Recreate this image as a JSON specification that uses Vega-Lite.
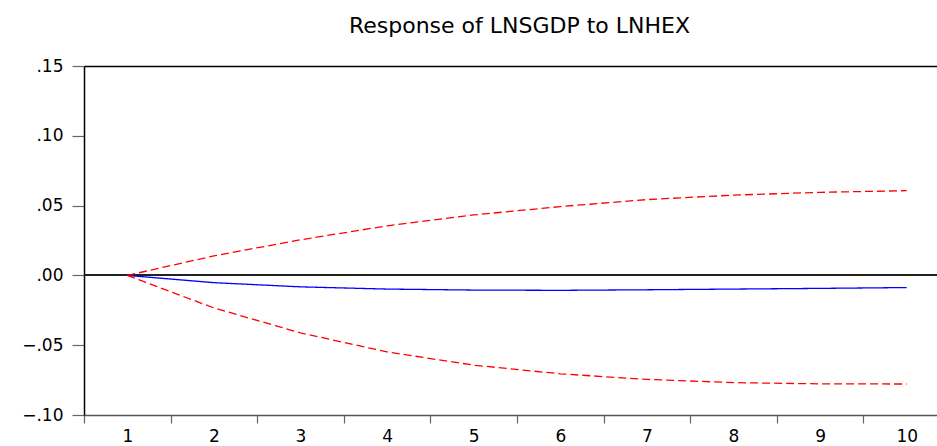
{
  "$schema": "https://vega.github.io/schema/vega-lite/v6.json",
  "width": 853,
  "height": 349,
  "autosize": {"type": "none"},
  "padding": {"left": 84, "top": 66, "right": 0, "bottom": 31},
  "background": "white",
  "title": {
    "text": "Response of LNSGDP to LNHEX",
    "font": "DejaVu Sans",
    "fontSize": 22,
    "fontWeight": "normal",
    "color": "black",
    "offset": 19,
    "dx": 9
  },
  "data": {
    "values": [
      {"step": 1, "series": "response", "value": 0},
      {"step": 2, "series": "response", "value": -0.0052},
      {"step": 3, "series": "response", "value": -0.0082},
      {"step": 4, "series": "response", "value": -0.0098},
      {"step": 5, "series": "response", "value": -0.0105},
      {"step": 6, "series": "response", "value": -0.0107},
      {"step": 7, "series": "response", "value": -0.0103},
      {"step": 8, "series": "response", "value": -0.0098},
      {"step": 9, "series": "response", "value": -0.0093},
      {"step": 10, "series": "response", "value": -0.0087},
      {"step": 1, "series": "upper", "value": 0},
      {"step": 2, "series": "upper", "value": 0.0140},
      {"step": 3, "series": "upper", "value": 0.0255},
      {"step": 4, "series": "upper", "value": 0.0355},
      {"step": 5, "series": "upper", "value": 0.0433},
      {"step": 6, "series": "upper", "value": 0.0493},
      {"step": 7, "series": "upper", "value": 0.0543},
      {"step": 8, "series": "upper", "value": 0.0575},
      {"step": 9, "series": "upper", "value": 0.0595},
      {"step": 10, "series": "upper", "value": 0.0607},
      {"step": 1, "series": "lower", "value": 0},
      {"step": 2, "series": "lower", "value": -0.0233},
      {"step": 3, "series": "lower", "value": -0.0412},
      {"step": 4, "series": "lower", "value": -0.0548},
      {"step": 5, "series": "lower", "value": -0.0643},
      {"step": 6, "series": "lower", "value": -0.0705},
      {"step": 7, "series": "lower", "value": -0.0745},
      {"step": 8, "series": "lower", "value": -0.0768},
      {"step": 9, "series": "lower", "value": -0.0777},
      {"step": 10, "series": "lower", "value": -0.0778}
    ]
  },
  "layer": [
    {
      "mark": {"type": "rule", "color": "#222222", "strokeWidth": 1},
      "encoding": {
        "x": {
          "datum": 0.5,
          "type": "quantitative",
          "title": null,
          "axis": {
            "orient": "top",
            "labels": false,
            "ticks": false,
            "grid": false,
            "domainColor": "black",
            "domainWidth": 1.5,
            "title": null
          }
        },
        "x2": {"datum": 10.35},
        "y": {"datum": 0, "type": "quantitative", "title": null}
      }
    },
    {
      "mark": {"type": "line", "strokeWidth": 1.3},
      "encoding": {
        "x": {
          "field": "step",
          "type": "quantitative",
          "title": null,
          "scale": {"domain": [0.5, 10.35], "nice": false, "zero": false},
          "axis": {
            "orient": "bottom",
            "values": [0.5, 1.5, 2.5, 3.5, 4.5, 5.5, 6.5, 7.5, 8.5, 9.5],
            "labelExpr": "format(datum.value + 0.5, 'd')",
            "labelOffset": 43.3,
            "labelOverlap": false,
            "labelBound": false,
            "labelFlush": false,
            "grid": false,
            "tickSize": 8,
            "tickColor": "#666666",
            "tickWidth": 1.2,
            "domainColor": "#555555",
            "domainWidth": 1.5,
            "labelFont": "DejaVu Sans",
            "labelFontSize": 17,
            "labelColor": "black",
            "labelPadding": 5,
            "title": null
          }
        },
        "y": {
          "field": "value",
          "type": "quantitative",
          "title": null,
          "scale": {"domain": [-0.1, 0.15], "nice": false, "zero": false},
          "axis": {
            "values": [-0.1, -0.05, 0, 0.05, 0.1, 0.15],
            "labelExpr": "replace(format(datum.value, '.2f'), '0.', '.')",
            "grid": false,
            "tickSize": 12,
            "tickColor": "#666666",
            "tickWidth": 1.2,
            "domainColor": "black",
            "domainWidth": 1.5,
            "labelFont": "DejaVu Sans",
            "labelFontSize": 17,
            "labelColor": "black",
            "labelPadding": 9,
            "labelBound": false,
            "labelFlush": false,
            "title": null
          }
        },
        "color": {
          "field": "series",
          "type": "nominal",
          "scale": {"domain": ["response", "upper", "lower"], "range": ["#0000ff", "#ff0000", "#ff0000"]},
          "legend": null
        },
        "strokeDash": {
          "field": "series",
          "type": "nominal",
          "scale": {"domain": ["response", "upper", "lower"], "range": [[1, 0], [8, 4], [8, 4]]},
          "legend": null
        }
      }
    }
  ],
  "resolve": {"axis": {"x": "independent"}},
  "config": {"view": {"stroke": null}}
}
